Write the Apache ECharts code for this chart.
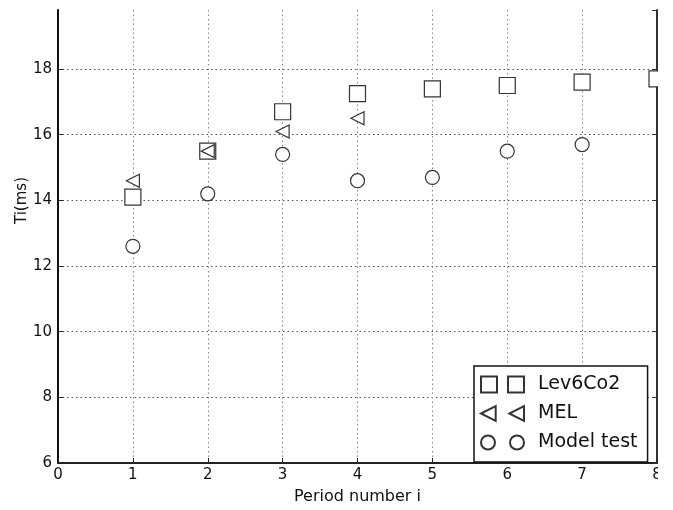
<!DOCTYPE html>
<html>
<head>
<meta charset="utf-8">
<title>Ti per period</title>
<script src="https://cdn.jsdelivr.net/npm/echarts@6/dist/echarts.min.js"></script>
<style>
  html, body { margin: 0; padding: 0; background: #fff; }
  #chart { width: 673px; height: 510px; }
</style>
</head>
<body>
<div id="chart"></div>
<script>
// Period numbers and measured Ti (ms) per data source
const periods = [1, 2, 3, 4, 5, 6, 7, 8];
const lev6Co2 = [14.1, 15.5, 16.7, 17.25, 17.4, 17.5, 17.6, 17.7];
const melPeriods = [1, 2, 3, 4];
const mel = [14.6, 15.5, 16.1, 16.5];
const modelPeriods = [1, 2, 3, 4, 5, 6, 7];
const modelTest = [12.6, 14.2, 15.4, 14.6, 14.7, 15.5, 15.7];

const seriesNames = ['Lev6Co2', 'MEL', 'Model test'];

const font = 'DejaVu Sans';
const ink = '#333';
const W = 673, H = 510;
const grid = { left: 58, right: 16, top: 10, bottom: 44 };

// Marker shapes: a left-pointing triangle, plus doubled icons for the legend
const triPath = 'path://M14,0L0,7L14,14Z';
const legendIcons = [
  'path://M0,0H16V16H0Z M27,0H43V16H27Z',
  'path://M15,1L1,8L15,15Z M42,1L28,8L42,15Z',
  'path://M0,8A7,7 0 1,0 14,8A7,7 0 1,0 0,8Z M29,8A7,7 0 1,0 43,8A7,7 0 1,0 29,8Z'
];

const zip = (xs, ys) => xs.map((x, i) => [x, ys[i]]);

const markerStyle = { color: '#fff', borderColor: ink, borderWidth: 1.2, opacity: 1 };

const gridDots = (color) => ({
  show: true,
  showMinLine: false,
  showMaxLine: false,
  lineStyle: { color: color, width: 1, type: [1.5, 3] }
});

const chart = echarts.init(document.getElementById('chart'), null, { renderer: 'canvas' });

chart.setOption({
  animation: false,
  backgroundColor: '#fff',
  grid: Object.assign({ containLabel: false }, grid),
  // the figure is trimmed just past the right spine
  graphic: [{
    type: 'rect',
    silent: true,
    z: 100,
    shape: { x: W - grid.right + 1, y: 0, width: grid.right, height: H },
    style: { fill: '#fff' }
  }],
  xAxis: {
    type: 'value',
    min: 0, max: 8, interval: 1,
    name: 'Period number i',
    nameLocation: 'middle',
    nameMoveOverlap: false,
    nameGap: 26,
    nameTextStyle: { fontFamily: font, fontSize: 16, color: '#111' },
    axisLine: { show: true, onZero: false, lineStyle: { color: '#222', width: 2 } },
    axisTick: { show: true, inside: true, length: 5, lineStyle: { color: '#222', width: 1 } },
    axisLabel: { fontFamily: font, fontSize: 15, color: '#111', margin: 5 },
    splitLine: gridDots('#888')
  },
  yAxis: [
    {
      type: 'value',
      min: 6, max: 19.8, interval: 2,
      name: 'Ti(ms)',
      nameLocation: 'middle',
      nameMoveOverlap: false,
      nameGap: 28,
      nameTextStyle: { fontFamily: font, fontSize: 15, color: '#111', padding: [0, 0, 0, 72] },
      axisLine: { show: true, onZero: false, lineStyle: { color: '#111', width: 2 } },
      axisTick: { show: true, inside: true, length: 5, lineStyle: { color: '#222', width: 1 } },
      axisLabel: { fontFamily: font, fontSize: 15, color: '#111', margin: 6, showMaxLabel: false },
      splitLine: gridDots('#555')
    },
    {
      type: 'value',
      position: 'right',
      min: 6, max: 19.8, interval: 2,
      axisLine: { show: true, onZero: false, lineStyle: { color: '#333', width: 2 } },
      axisTick: { show: true, inside: true, length: 5, lineStyle: { color: '#333', width: 1 } },
      axisLabel: { show: false },
      splitLine: { show: false }
    }
  ],
  legend: {
    orient: 'vertical',
    left: 474,
    top: 366,
    padding: [9, 10, 10, 6],
    itemGap: 10,
    itemWidth: 43,
    itemHeight: 16,
    backgroundColor: '#fff',
    borderColor: '#111',
    borderWidth: 1.5,
    borderRadius: 0,
    selectedMode: false,
    textStyle: { fontFamily: font, fontSize: 19, color: '#111', padding: [0, 0, 0, 9] },
    data: seriesNames.map((n, i) => ({ name: n, icon: legendIcons[i] }))
  },
  series: [
    {
      name: seriesNames[0],
      type: 'scatter',
      data: zip(periods, lev6Co2),
      symbol: 'rect',
      symbolSize: 16,
      itemStyle: markerStyle,
      z: 3
    },
    {
      name: seriesNames[1],
      type: 'scatter',
      data: zip(melPeriods, mel),
      symbol: triPath,
      symbolSize: [13, 13],
      itemStyle: markerStyle,
      z: 4
    },
    {
      name: seriesNames[2],
      type: 'scatter',
      data: zip(modelPeriods, modelTest),
      symbol: 'circle',
      symbolSize: 14,
      itemStyle: markerStyle,
      z: 3
    }
  ]
});
</script>
</body>
</html>
